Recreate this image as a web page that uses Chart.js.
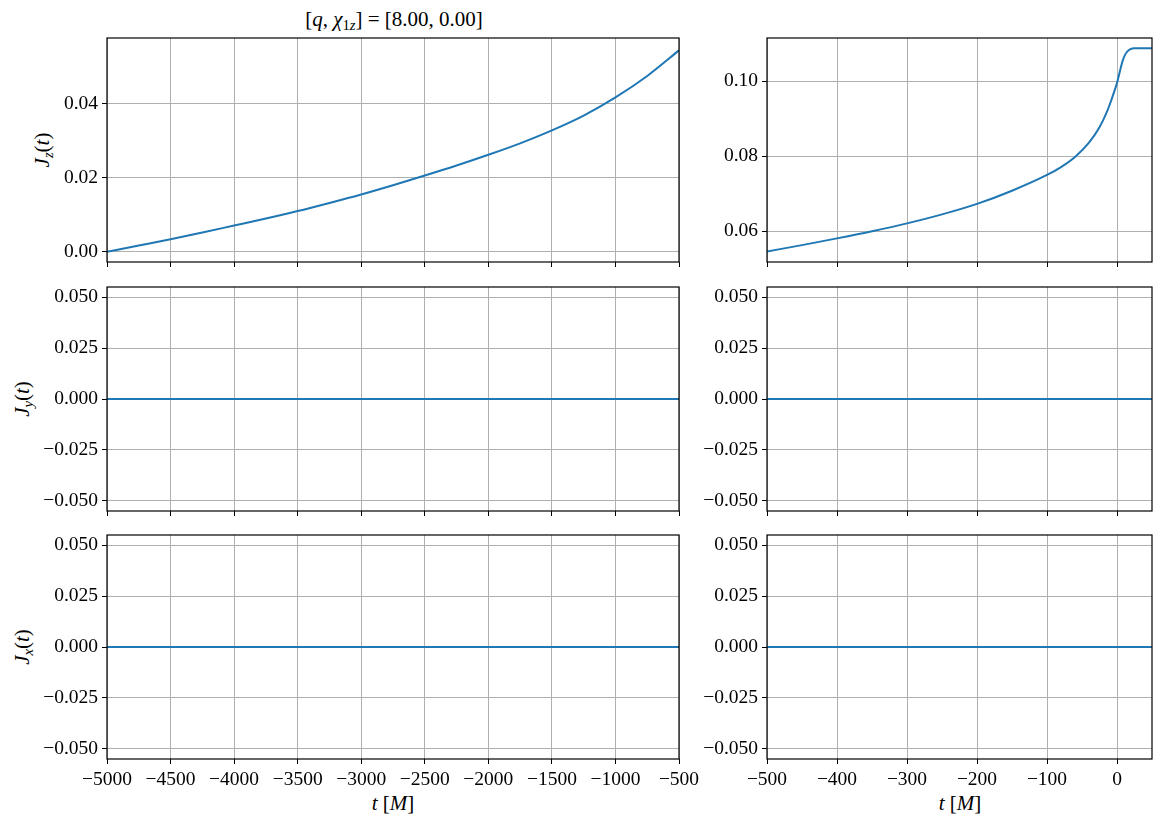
<!DOCTYPE html>
<html>
<head>
<meta charset="utf-8">
<script src="https://cdn.jsdelivr.net/npm/chart.js@4.4.0/dist/chart.umd.min.js"></script>
<style>
  body { margin: 0; background: #fff; width: 1162px; height: 824px; position: relative; overflow: hidden; font-family: 'Liberation Serif', serif; color: #000; }
  .panel { position: absolute; }
  .lbl { position: absolute; font-size: 21px; white-space: nowrap; transform: translate(-50%, -50%); }
  .rot { transform: translate(-50%, -50%) rotate(-90deg); }
  sub { font-size: 70%; vertical-align: -0.3em; line-height: 0; }
</style>
</head>
<body>

<div class="lbl" style="left:394px; top:19px;">[<i>q</i>, <i>χ</i><sub>1<i>z</i></sub>] = [8.00, 0.00]</div>
<div class="lbl rot" style="left:42px; top:150px;"><i>J</i><sub><i>z</i></sub>(<i>t</i>)</div>
<div class="lbl rot" style="left:22px; top:399px;"><i>J</i><sub><i>y</i></sub>(<i>t</i>)</div>
<div class="lbl rot" style="left:22px; top:647px;"><i>J</i><sub><i>x</i></sub>(<i>t</i>)</div>
<div class="lbl" style="left:393px; top:803px;"><i>t</i> [<i>M</i>]</div>
<div class="lbl" style="left:960px; top:803px;"><i>t</i> [<i>M</i>]</div>

<script>
// datos
const tLeft  = [-5000, -4750, -4500, -4250, -4000, -3750, -3500, -3250, -3000, -2750, -2500, -2250, -2000,
                -1750, -1500, -1250, -1000, -750, -500];
const jzLeft = [0.0000, 0.0017, 0.0034, 0.0052, 0.0071, 0.0090, 0.0110, 0.0132, 0.0155, 0.0180, 0.0206, 0.0233, 0.0262,
                0.0293, 0.0328, 0.0368, 0.0417, 0.0475, 0.0544];

const tRight  = [-500, -450, -400, -350, -300, -250, -200, -150, -100, -80, -60, -40, -25, -14, -8, -4,
                 0, 4, 8, 12, 17, 24, 50];
const jzRight = [0.0546, 0.0563, 0.0581, 0.0600, 0.0621, 0.0645, 0.0673, 0.0708, 0.0750, 0.0771, 0.0798, 0.0836,
                 0.0877, 0.0920, 0.0950, 0.0972, 0.0995, 0.1025, 0.1054, 0.1072, 0.1083, 0.1088, 0.1088];

// componentes planas
const tFlatLeft  = [-5000, -500];
const tFlatRight = [-500, 50];
const jyLeft  = [0, 0];
const jyRight = [0, 0];
const jxLeft  = [0, 0];
const jxRight = [0, 0];

// ticks
const xTicksLeft  = [-5000, -4500, -4000, -3500, -3000, -2500, -2000, -1500, -1000, -500];
const xTicksRight = [-500, -400, -300, -200, -100, 0];
const yTicksJzLeft  = [0.00, 0.02, 0.04];
const yTicksJzRight = [0.06, 0.08, 0.10];
const yTicksFlat    = [-0.050, -0.025, 0.000, 0.025, 0.050];

const cols = [
  { left: 107, width: 572, axisW: 100, padR: 25, xMin: -5000, xMax: -500, xTicks: xTicksLeft },
  { left: 767, width: 385, axisW: 72,  padR: 10, xMin: -500,  xMax: 50,   xTicks: xTicksRight }
];
const rows = [38, 287, 535];
const plotH = 224;
const padT = 20;

Chart.defaults.color = '#000';
Chart.defaults.font.family = "'Liberation Serif', serif";
Chart.defaults.font.size = 19.5;

// marco negro alrededor del area del grafico
const framePlugin = {
  id: 'frame',
  afterDraw(chart) {
    const a = chart.chartArea;
    const ctx = chart.ctx;
    ctx.save();
    ctx.strokeStyle = '#000';
    ctx.lineWidth = 1.2;
    ctx.strokeRect(a.left, a.top, a.right - a.left, a.bottom - a.top);
    ctx.restore();
  }
};

function fmt(v, d) {
  return v.toFixed(d).replace('-', '\u2212');
}

function makePanel(ci, ri, xs, ys, yTicks, yMin, yMax, dec) {
  const col = cols[ci];
  const showX = ri === 2;
  const axisH = showX ? 40 : 8;
  const padB = showX ? 0 : 16;
  const div = document.createElement('div');
  div.className = 'panel';
  div.style.left = (col.left - col.axisW) + 'px';
  div.style.top = (rows[ri] - padT) + 'px';
  div.style.width = (col.axisW + col.width + col.padR) + 'px';
  div.style.height = (padT + plotH + axisH + padB) + 'px';
  const canvas = document.createElement('canvas');
  div.appendChild(canvas);
  document.body.appendChild(div);

  new Chart(canvas.getContext('2d'), {
    type: 'line',
    data: {
      datasets: [{
        data: xs.map((x, i) => ({ x: x, y: ys[i] })),
        borderColor: '#1f77b4',
        borderWidth: 2,
        pointRadius: 0,
        cubicInterpolationMode: 'monotone',
        fill: false
      }]
    },
    options: {
      animation: false,
      responsive: true,
      maintainAspectRatio: false,
      devicePixelRatio: 1,
      layout: { padding: { top: padT, right: col.padR, left: 0, bottom: padB } },
      plugins: { legend: { display: false }, tooltip: { enabled: false } },
      scales: {
        x: {
          type: 'linear',
          min: col.xMin,
          max: col.xMax,
          afterBuildTicks: s => { s.ticks = col.xTicks.map(v => ({ value: v })); },
          afterFit: s => { s.height = axisH; },
          grid: { color: '#b0b0b0', lineWidth: 1, tickColor: '#000', tickLength: 5 },
          border: { display: false },
          ticks: {
            autoSkip: false, maxRotation: 0, padding: 4,
            callback: v => showX ? fmt(v, 0) : ''
          }
        },
        y: {
          type: 'linear',
          min: yMin,
          max: yMax,
          afterBuildTicks: s => { s.ticks = yTicks.map(v => ({ value: v })); },
          afterFit: s => { s.width = col.axisW; },
          grid: { color: '#b0b0b0', lineWidth: 1, tickColor: '#000', tickLength: 5 },
          border: { display: false },
          ticks: { autoSkip: false, padding: 4, callback: v => fmt(v, dec) }
        }
      }
    },
    plugins: [framePlugin]
  });
}

makePanel(0, 0, tLeft, jzLeft, yTicksJzLeft, -0.00275, 0.05775, 2);
makePanel(1, 0, tRight, jzRight, yTicksJzRight, 0.0518, 0.1115, 2);
makePanel(0, 1, tFlatLeft, jyLeft, yTicksFlat, -0.055, 0.055, 3);
makePanel(1, 1, tFlatRight, jyRight, yTicksFlat, -0.055, 0.055, 3);
makePanel(0, 2, tFlatLeft, jxLeft, yTicksFlat, -0.055, 0.055, 3);
makePanel(1, 2, tFlatRight, jxRight, yTicksFlat, -0.055, 0.055, 3);
</script>
</body>
</html>
